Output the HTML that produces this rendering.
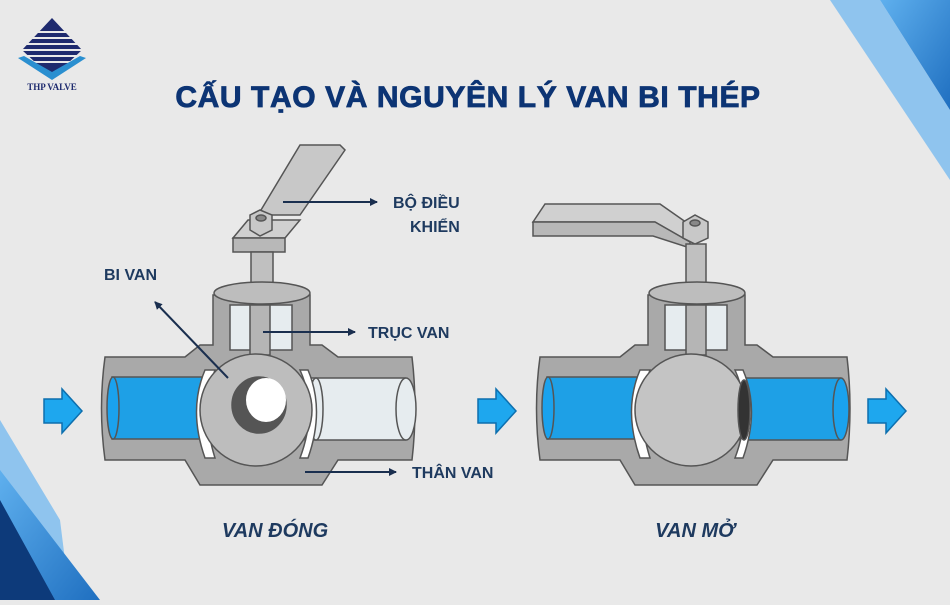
<!DOCTYPE html>
<html><head><meta charset="utf-8"><style>
body{margin:0;width:950px;height:600px;overflow:hidden;background:#e9e9e9;font-family:"Liberation Sans",sans-serif}
</style></head><body>
<svg width="950" height="600" viewBox="0 0 950 600" xmlns="http://www.w3.org/2000/svg">
<defs>
<linearGradient id="bl" x1="0" y1="0" x2="1" y2="1"><stop offset="0" stop-color="#5fb0ee"/><stop offset="1" stop-color="#1f6fc0"/></linearGradient>
<marker id="ar" markerUnits="userSpaceOnUse" markerWidth="9" markerHeight="9" refX="7" refY="4.5" orient="auto"><path d="M0,0.5 L8,4.5 L0,8.5 Z" fill="#1a2f4f"/></marker>
<g id="arrowR"><path d="M0,10 H18 V0 L38,22 L18,44 V34 H0 Z" fill="#1ea7ee" stroke="#0d6fae" stroke-width="1.5"/></g>
</defs>
<rect width="950" height="600" fill="#e9e9e9"/>
<polygon points="830,0 880,0 950,110 950,180" fill="#8fc4ee"/>
<polygon points="880,0 950,0 950,110" fill="url(#bl)"/>
<polygon points="0,420 60,520 70,600 0,600" fill="#8fc4ee"/>
<polygon points="0,470 100,600 0,600" fill="url(#bl)"/>
<polygon points="0,500 55,600 0,600" fill="#0d3a7a"/>
<g transform="translate(52,50)">
<polygon points="0,-32 30,0 0,28 -30,0" fill="#1e2a6e"/>
<g stroke="#e9e9e9" stroke-width="2"><line x1="-30" y1="-18" x2="30" y2="-18"/><line x1="-30" y1="-12" x2="30" y2="-12"/><line x1="-30" y1="-6" x2="30" y2="-6"/><line x1="-30" y1="0" x2="30" y2="0"/><line x1="-30" y1="6" x2="30" y2="6"/><line x1="-30" y1="12" x2="30" y2="12"/></g>
<polygon points="-34,8 0,30 34,8 28,6 0,22 -28,6" fill="#2a8fd0"/>
<text x="0" y="40" font-family="Liberation Serif" font-weight="bold" font-size="9" fill="#1e2a6e" text-anchor="middle">THP VALVE</text>
</g>
<text x="468" y="107" text-anchor="middle" font-weight="bold" font-size="30" fill="#0c3474" letter-spacing="0.6" stroke="#0c3474" stroke-width="0.8">CẤU TẠO VÀ NGUYÊN LÝ VAN BI THÉP</text>

<g stroke="#555" stroke-width="1.5">
<path d="M300,145 L340,145 L345,150 L300,215 L258,215 Z" fill="#c8c8c8"/>
<polygon points="233,238 248,220 300,220 285,238" fill="#d0d0d0"/>
<rect x="233" y="238" width="52" height="14" fill="#b8b8b8"/>
<polygon points="250,215 260,210 272,215 272,230 260,236 250,230" fill="#c8c8c8"/>
<ellipse cx="261" cy="218" rx="5" ry="3" fill="#888"/>
<rect x="251" y="252" width="22" height="42" fill="#c0c0c0"/>
<path d="M105,357 H185 L200,345 H213 V295 H310 V345 H322 L338,357 H412 Q418,408 412,460 H338 L322,485 H200 L185,460 H105 Q98,408 105,357 Z" fill="#a9a9a9"/>
<ellipse cx="262" cy="293" rx="48" ry="11" fill="#bdbdbd"/>
<rect x="230" y="305" width="62" height="45" fill="#e6ecef"/>
<rect x="250" y="305" width="20" height="50" fill="#b5b5b5"/>
<rect x="112" y="377" width="90" height="62" fill="#1ea0e6"/>
<ellipse cx="113" cy="408" rx="6" ry="31" fill="#1aa2ee"/>
<rect x="305" y="378" width="100" height="62" fill="#e6ecef"/>
<ellipse cx="406" cy="409" rx="10" ry="31" fill="#e6ecef"/>
<ellipse cx="316" cy="409" rx="7" ry="31" fill="#e6ecef"/>
<path d="M205,370 Q188,410 205,458 L215,458 Q200,410 215,370 Z" fill="#fff"/>
<path d="M300,370 Q318,410 300,458 L308,458 Q325,410 308,370 Z" fill="#fff"/>
<circle cx="256" cy="410" r="56" fill="#bdbdbd"/>
<ellipse cx="259" cy="405" rx="27" ry="28" fill="#555"/>
<ellipse cx="266" cy="400" rx="20" ry="22" fill="#fff" stroke="none"/>
</g>
<g stroke="#555" stroke-width="1.5">
<path d="M533,222 L545,204 L660,204 L700,232 L690,242 L655,222 Z" fill="#d0d0d0"/>
<path d="M533,222 L655,222 L690,242 L690,248 L653,236 L533,236 Z" fill="#b8b8b8"/>
<polygon points="683,222 695,215 708,222 708,238 695,244 683,238" fill="#c8c8c8"/>
<ellipse cx="695" cy="223" rx="5" ry="3" fill="#888"/>
<rect x="686" y="244" width="20" height="50" fill="#c0c0c0"/>
<path d="M540,357 H620 L635,345 H648 V295 H745 V345 H757 L773,357 H847 Q853,408 847,460 H773 L757,485 H635 L620,460 H540 Q533,408 540,357 Z" fill="#a9a9a9"/>
<ellipse cx="697" cy="293" rx="48" ry="11" fill="#bdbdbd"/>
<rect x="665" y="305" width="62" height="45" fill="#e6ecef"/>
<rect x="686" y="305" width="20" height="50" fill="#b5b5b5"/>
<rect x="547" y="377" width="90" height="62" fill="#1ea0e6"/>
<ellipse cx="548" cy="408" rx="6" ry="31" fill="#1aa2ee"/>
<rect x="740" y="378" width="100" height="62" fill="#1ea0e6"/>
<ellipse cx="841" cy="409" rx="8" ry="31" fill="#1aa2ee"/>
<path d="M640,370 Q623,410 640,458 L650,458 Q635,410 650,370 Z" fill="#fff"/>
<path d="M735,370 Q753,410 735,458 L743,458 Q760,410 743,370 Z" fill="#fff"/>
<circle cx="691" cy="410" r="56" fill="#c4c4c4"/>
<ellipse cx="744" cy="410" rx="6" ry="30" fill="#333"/>
</g>
<use href="#arrowR" x="44" y="389"/>
<use href="#arrowR" x="478" y="389"/>
<use href="#arrowR" x="868" y="389"/>
<g stroke="#1a2f4f" stroke-width="2" marker-end="url(#ar)">
<line x1="283" y1="202" x2="377" y2="202"/>
<line x1="263" y1="332" x2="355" y2="332"/>
<line x1="228" y1="378" x2="155" y2="302"/>
<line x1="305" y1="472" x2="396" y2="472"/>
</g>
<g font-weight="bold" font-size="16" fill="#1e3a5f">
<text x="393" y="208">BỘ ĐIỀU</text>
<text x="410" y="232">KHIỂN</text>
<text x="104" y="280">BI VAN</text>
<text x="368" y="338">TRỤC VAN</text>
<text x="412" y="478">THÂN VAN</text>
</g>
<g font-weight="bold" font-style="italic" font-size="20" fill="#1e3a5f" text-anchor="middle">
<text x="275" y="537">VAN ĐÓNG</text>
<text x="695" y="537">VAN MỞ</text>
</g>
</svg>
</body></html>
